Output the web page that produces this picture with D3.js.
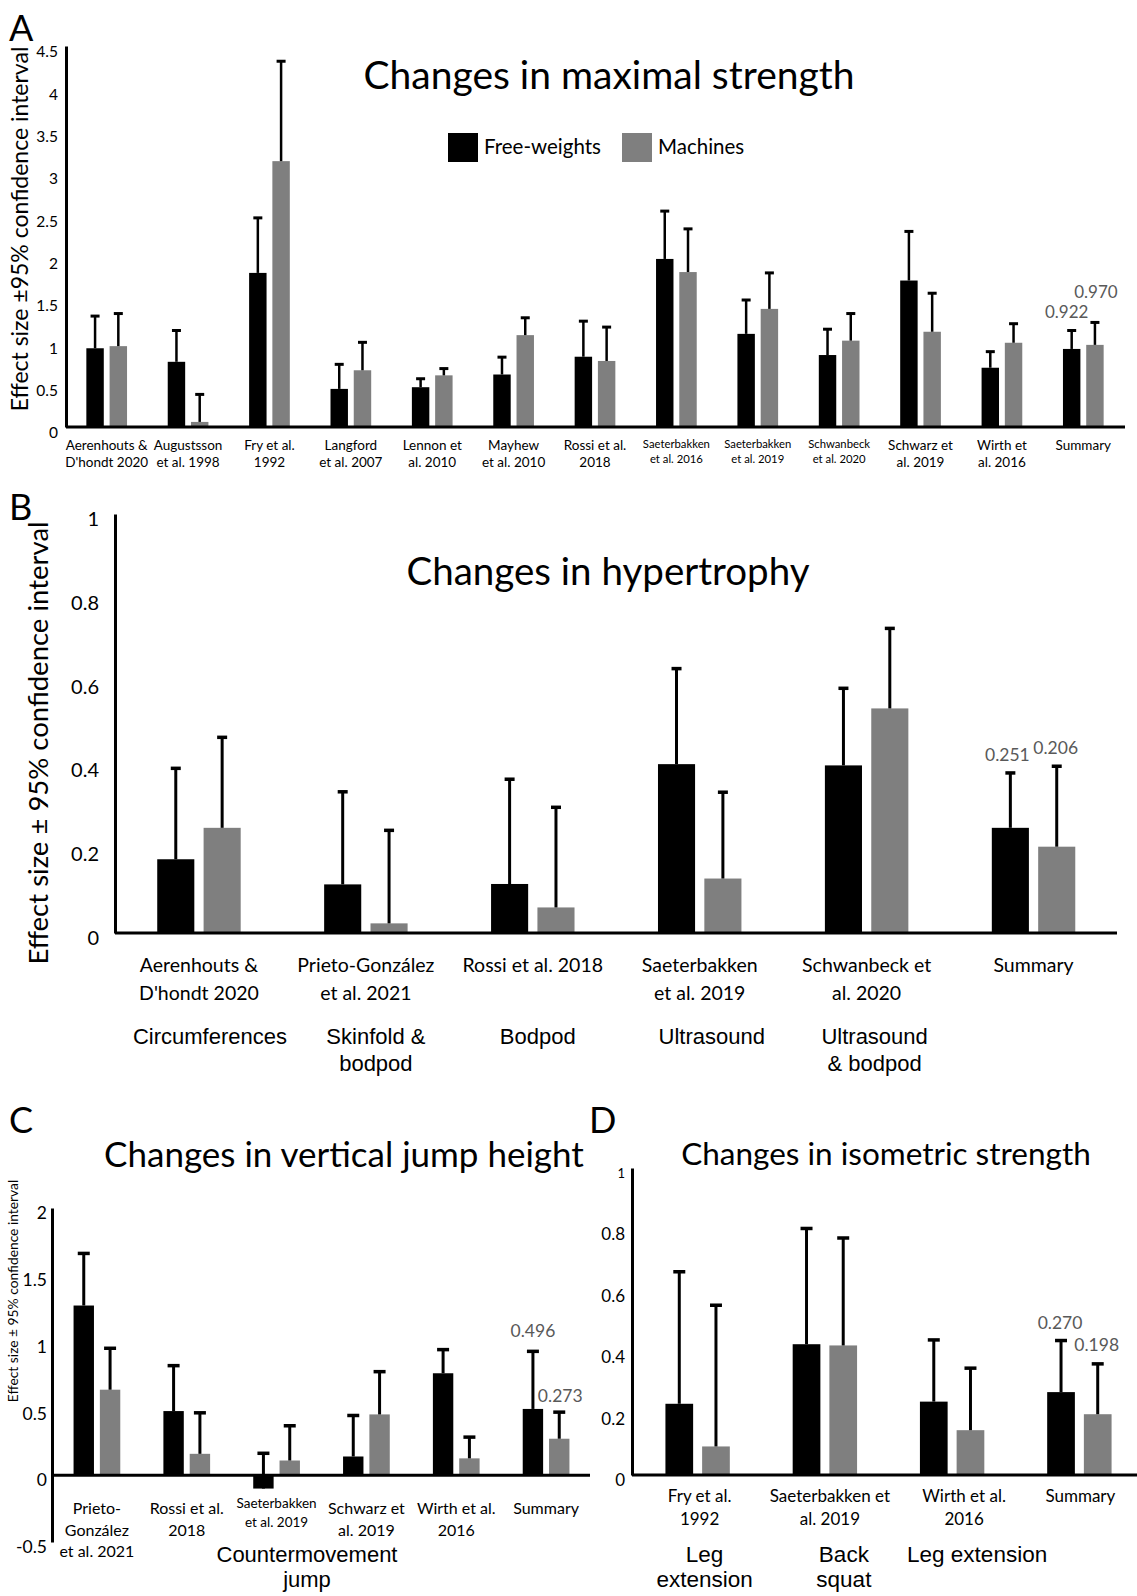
<!DOCTYPE html>
<meta charset="utf-8">
<style>
body { margin: 0; background: #fff; }
svg text { font-family: Lato, "Open Sans", sans-serif; fill: #000; }
svg text.arial { font-family: "Liberation Sans", Arial, sans-serif; }
svg text.val { fill: #595959; }
</style>
<body>
<script src="https://d3js.org/d3.v7.min.js"></script>
<script>
// ---- A: maximal strength
var strengthStudies = [["Aerenhouts &","D'hondt 2020"],["Augustsson","et al. 1998"],["Fry et al.","1992"],["Langford","et al. 2007"],["Lennon et","al. 2010"],["Mayhew","et al. 2010"],["Rossi et al.","2018"],["Saeterbakken","et al. 2016"],["Saeterbakken","et al. 2019"],["Schwanbeck","et al. 2020"],["Schwarz et","al. 2019"],["Wirth et","al. 2016"],["Summary"]];
var strengthFree      = [0.93, 0.77, 1.82, 0.45, 0.47, 0.62, 0.83, 1.985, 1.10, 0.85, 1.73, 0.70, 0.922];
var strengthFreeUpper = [1.31, 1.14, 2.47, 0.74, 0.57, 0.825, 1.25, 2.55, 1.50, 1.155, 2.31, 0.89, 1.14];
var strengthMach      = [0.955, 0.06, 3.14, 0.67, 0.61, 1.085, 0.78, 1.83, 1.395, 1.02, 1.125, 0.995, 0.970];
var strengthMachUpper = [1.34, 0.385, 4.32, 1.0, 0.69, 1.29, 1.18, 2.34, 1.82, 1.34, 1.58, 1.22, 1.235];
var strengthTicks = [0, 0.5, 1, 1.5, 2, 2.5, 3, 3.5, 4, 4.5];
var strengthSummary = ["0.922", "0.970"];

// ---- B: hypertrophy
var hyperStudies = [["Aerenhouts &","D'hondt 2020"],["Prieto-González","et al. 2021"],["Rossi et al. 2018"],["Saeterbakken","et al. 2019"],["Schwanbeck et","al. 2020"],["Summary"]];
var hyperMethods = [["Circumferences"],["Skinfold &","bodpod"],["Bodpod"],["Ultrasound"],["Ultrasound","& bodpod"],[]];
var hyperFree      = [0.176, 0.116, 0.117, 0.403, 0.40, 0.251];
var hyperFreeUpper = [0.393, 0.337, 0.367, 0.631, 0.584, 0.382];
var hyperMach      = [0.251, 0.023, 0.061, 0.13, 0.536, 0.206];
var hyperMachUpper = [0.467, 0.245, 0.30, 0.336, 0.727, 0.398];
var hyperTicks = [0, 0.2, 0.4, 0.6, 0.8, 1];
var hyperSummary = ["0.251", "0.206"];

// ---- C: vertical jump height
var jumpStudies = [["Prieto-","González","et al. 2021"],["Rossi et al.","2018"],["Saeterbakken","et al. 2019"],["Schwarz et","al. 2019"],["Wirth et al.","2016"],["Summary"]];
var jumpFree      = [1.27, 0.48, -0.10, 0.14, 0.763, 0.496];
var jumpFreeUpper = [1.66, 0.82, 0.164, 0.447, 0.94, 0.927];
var jumpMach      = [0.64, 0.16, 0.11, 0.455, 0.126, 0.273];
var jumpMachUpper = [0.95, 0.467, 0.37, 0.775, 0.285, 0.472];
var jumpTicks = [-0.5, 0, 0.5, 1, 1.5, 2];
var jumpSummary = ["0.496", "0.273"];
var jumpTest = ["Countermovement", "jump"];

// ---- D: isometric strength
var isoStudies = [["Fry et al.","1992"],["Saeterbakken et","al. 2019"],["Wirth et al.","2016"],["Summary"]];
var isoMethods = [["Leg","extension"],["Back","squat"],["Leg extension"],[]];
var isoFree      = [0.232, 0.426, 0.239, 0.270];
var isoFreeUpper = [0.662, 0.803, 0.44, 0.438];
var isoMach      = [0.093, 0.422, 0.146, 0.198];
var isoMachUpper = [0.553, 0.772, 0.348, 0.362];
var isoTicks = [0, 0.2, 0.4, 0.6, 0.8, 1];
var isoSummary = ["0.270", "0.198"];

var series = ["Free-weights", "Machines"];
var colors = {"Free-weights": "#000000", "Machines": "#7f7f7f"};

var svg = d3.select("body").append("svg")
    .attr("width", 1137)
    .attr("height", 1596);

function drawPanel(c) {
  var g = svg.append("g");
  var y = d3.scaleLinear().domain(c.domain).range(c.yRange);
  var x0 = d3.scaleBand().domain(d3.range(c.cats.length)).range(c.xRange)
      .paddingInner(c.groupPad).paddingOuter(c.groupPad / 2);
  var x1 = d3.scaleBand().domain(series).range([0, x0.bandwidth()]).paddingInner(c.barPad);

  var rows = c.cats.map(function(d, i) {
    return {i: i, vals: [
      {s: series[0], v: c.free[i], up: c.freeUp[i]},
      {s: series[1], v: c.mach[i], up: c.machUp[i]}
    ]};
  });

  var grp = g.selectAll(".grp").data(rows).enter().append("g")
      .attr("transform", function(d) { return "translate(" + x0(d.i) + ",0)"; });

  grp.selectAll("rect").data(function(d) { return d.vals; }).enter().append("rect")
      .attr("x", function(d) { return x1(d.s); })
      .attr("width", x1.bandwidth())
      .attr("y", function(d) { return y(Math.max(0, d.v)); })
      .attr("height", function(d) { return Math.abs(y(d.v) - y(0)); })
      .attr("fill", function(d) { return colors[d.s]; });

  // upper error bars only
  var eb = grp.selectAll(".eb").data(function(d) { return d.vals; }).enter().append("g");
  eb.append("line")
      .attr("x1", function(d) { return x1(d.s) + x1.bandwidth() / 2; })
      .attr("x2", function(d) { return x1(d.s) + x1.bandwidth() / 2; })
      .attr("y1", function(d) { return y(d.v); })
      .attr("y2", function(d) { return y(d.up); })
      .attr("stroke", "#000").attr("stroke-width", c.errW);
  eb.append("line")
      .attr("x1", function(d) { return x1(d.s) + x1.bandwidth() / 2 - c.cap / 2; })
      .attr("x2", function(d) { return x1(d.s) + x1.bandwidth() / 2 + c.cap / 2; })
      .attr("y1", function(d) { return y(d.up); })
      .attr("y2", function(d) { return y(d.up); })
      .attr("stroke", "#000").attr("stroke-width", c.errW + 0.5);

  // summary value labels
  var last = c.cats.length - 1;
  c.summary.forEach(function(t, k) {
    var s = series[k];
    g.append("text").attr("class", "val")
      .attr("x", x0(last) + x1(s) + x1.bandwidth() / 2 + c.labDx[k])
      .attr("y", y(k === 0 ? c.freeUp[last] : c.machUp[last]) - c.labLift[k])
      .attr("text-anchor", "middle")
      .style("font-size", c.valSize + "px")
      .text(t);
  });

  // y axis
  var ya = g.append("g")
      .attr("transform", "translate(" + c.axisX + ",0)")
      .call(d3.axisLeft(y).tickValues(c.ticks).tickSize(0).tickPadding(c.tickPad)
            .tickFormat(function(d) { return String(d); }));
  ya.select(".domain").attr("stroke-width", 3).attr("stroke", "#000");
  ya.selectAll(".tick text")
      .attr("font-family", null)
      .attr("dy", "0.32em")
      .attr("transform", "translate(0," + c.tickDy + ")")
      .style("font-size", function(d) { return (c.tickSizeFn ? c.tickSizeFn(d) : c.tickSize) + "px"; })
      .style("fill", "#000");
  ya.attr("font-size", null);

  // x baseline
  g.append("line")
      .attr("x1", c.axisX).attr("x2", c.xEnd)
      .attr("y1", y(0)).attr("y2", y(0))
      .attr("stroke", "#000").attr("stroke-width", 3);

  // category labels
  c.cats.forEach(function(lines, i) {
    var small = c.small && c.small.indexOf(i) >= 0;
    var fs = small ? c.smallSize : c.catSize;
    var lh = small ? c.smallLine : c.catLine;
    var dx = c.catDx ? c.catDx[i] : 0;
    var t = g.append("text")
      .attr("text-anchor", "middle")
      .style("font-size", fs + "px");
    lines.forEach(function(l, j) {
      t.append("tspan")
        .attr("x", x0(i) + x0.bandwidth() / 2 + dx)
        .attr("y", c.catY + (small ? c.smallDy : 0) + j * lh)
        .text(l);
    });
  });

  // measurement method labels
  if (c.methods) {
    c.methods.forEach(function(lines, i) {
      var t = g.append("text").attr("class", "arial")
        .attr("text-anchor", "middle")
        .style("font-size", c.methSize + "px");
      lines.forEach(function(l, j) {
        t.append("tspan")
          .attr("x", x0(i) + x0.bandwidth() / 2 + c.methDx[i])
          .attr("y", c.methY + j * c.methLine)
          .text(l);
      });
    });
  }

  // title
  g.append("text")
      .attr("x", c.titleX).attr("y", c.titleY)
      .attr("text-anchor", "middle")
      .style("font-size", c.titleSize + "px")
      .text(c.title);

  // y title
  if (c.yTitle) {
    g.append("text")
      .attr("transform", "translate(" + c.yTitleX + "," + c.yTitleY + ") rotate(-90)")
      .attr("text-anchor", "middle")
      .attr("dy", "0.35em")
      .style("font-size", c.yTitleSize + "px")
      .text(c.yTitle);
  }

  // panel letter
  g.append("text")
      .attr("x", c.letterX).attr("y", c.letterY)
      .style("font-size", "36px")
      .text(c.letter);

  return {g: g, y: y, x0: x0};
}

// A
var pA = drawPanel({
  cats: strengthStudies, free: strengthFree, freeUp: strengthFreeUpper,
  mach: strengthMach, machUp: strengthMachUpper, ticks: strengthTicks,
  domain: [0, 4.5], yRange: [427, 46], xRange: [66, 1124], axisX: 66, xEnd: 1125,
  groupPad: 0.5, barPad: 0.25, errW: 2.5, cap: 9,
  tickPad: 8, tickDy: 6, tickSize: 15.5,
  catSize: 13.5, catLine: 17, catY: 450, small: [7, 8, 9], smallSize: 11.3, smallLine: 15, smallDy: -2,
  summary: strengthSummary, labDx: [-5, 1], labLift: [12, 24], valSize: 17,
  title: "Changes in maximal strength", titleX: 609, titleY: 89, titleSize: 39,
  yTitle: "Effect size \u00b195% confidence interval", yTitleX: 20, yTitleY: 229, yTitleSize: 23,
  letter: "A", letterX: 9, letterY: 41
});

// legend in A
var leg = pA.g.append("g");
series.forEach(function(s, k) {
  var lx = [448, 622][k];
  leg.append("rect").attr("x", lx).attr("y", 133).attr("width", 30).attr("height", 29)
     .attr("fill", colors[s]);
  leg.append("text").attr("x", lx + 36).attr("y", 147).attr("dy", "0.35em")
     .style("font-size", "20.5px").text(s);
});

// B
drawPanel({
  cats: hyperStudies, free: hyperFree, freeUp: hyperFreeUpper,
  mach: hyperMach, machUp: hyperMachUpper, ticks: hyperTicks,
  domain: [0, 1], yRange: [933, 514], xRange: [115.5, 1117], axisX: 115, xEnd: 1117,
  groupPad: 0.5, barPad: 0.2, errW: 3, cap: 10,
  tickPad: 16, tickDy: 5, tickSize: 20,
  catSize: 19.5, catLine: 28, catY: 972,
  methods: hyperMethods, methSize: 22, methLine: 27, methY: 1044, methDx: [11, 10, 5, 12, 8, 0],
  summary: hyperSummary, labDx: [-3, -1], labLift: [12, 12], valSize: 17.5,
  title: "Changes in hypertrophy", titleX: 608, titleY: 585, titleSize: 38.5,
  yTitle: "Effect size \u00b1 95% confidence interval", yTitleX: 38, yTitleY: 743, yTitleSize: 27.5,
  letter: "B", letterX: 9, letterY: 520
});

// C
var pC = drawPanel({
  cats: jumpStudies, free: jumpFree, freeUp: jumpFreeUpper,
  mach: jumpMach, machUp: jumpMachUpper, ticks: jumpTicks,
  domain: [-0.5, 2], yRange: [1542, 1208], xRange: [52, 591], axisX: 52, xEnd: 590,
  groupPad: 0.48, barPad: 0.225, errW: 3, cap: 12,
  tickPad: 5, tickDy: 5, tickSize: 17.5,
  catSize: 16, catLine: 21.5, catY: 1514, small: [2], smallSize: 13.5, smallLine: 19, smallDy: -6,
  summary: jumpSummary, labDx: [0, 1], labLift: [14, 10], valSize: 17.5,
  title: "Changes in vertical jump height", titleX: 344, titleY: 1167, titleSize: 35,
  yTitle: "Effect size \u00b1 95% confidence interval", yTitleX: 13, yTitleY: 1291, yTitleSize: 13.8,
  letter: "C", letterX: 9, letterY: 1133
});
pC.g.append("text").attr("class", "arial")
  .attr("text-anchor", "middle")
  .style("font-size", "22px")
  .selectAll("tspan").data(jumpTest).enter().append("tspan")
  .attr("x", 307)
  .attr("y", function(d, j) { return 1562 + j * 25; })
  .text(function(d) { return d; });

// D
drawPanel({
  cats: isoStudies, free: isoFree, freeUp: isoFreeUpper,
  mach: isoMach, machUp: isoMachUpper, ticks: isoTicks,
  domain: [0, 1], yRange: [1475, 1168], xRange: [634, 1143], axisX: 632, xEnd: 1137,
  groupPad: 0.494, barPad: 0.245, errW: 3, cap: 12,
  tickPad: 7, tickDy: 5, tickSize: 17, tickSizeFn: function(d) { return d === 1 ? 13 : 17; },
  catSize: 17, catLine: 23, catY: 1502, catDx: [2, 5, 12, 1],
  methods: isoMethods, methSize: 22.5, methLine: 25, methY: 1562, methDx: [7, 19, 25, 0],
  summary: isoSummary, labDx: [-1, -1], labLift: [12, 13], valSize: 17.5,
  title: "Changes in isometric strength", titleX: 886, titleY: 1165, titleSize: 31.5,
  letter: "D", letterX: 589, letterY: 1133
});
</script>
</body>
